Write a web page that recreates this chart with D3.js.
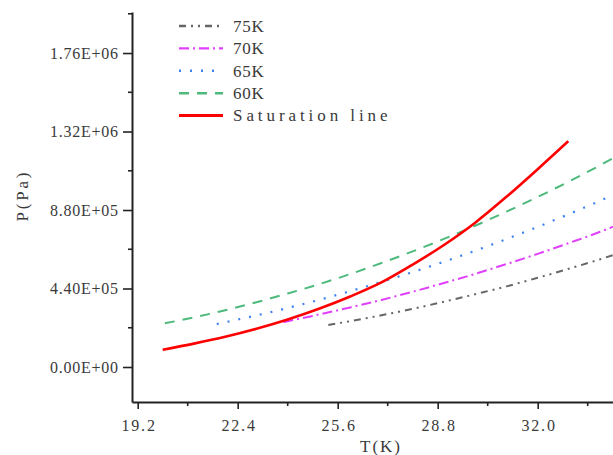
<!DOCTYPE html>
<html>
<head>
<meta charset="utf-8">
<script src="https://cdn.jsdelivr.net/npm/d3@7"></script>
<style>
  body { margin: 0; background: #fff; }
  svg text { font-family: "Liberation Serif", "DejaVu Serif", serif; fill: #3a3a3a; }
</style>
</head>
<body>
<svg id="chart" width="613" height="455"></svg>
<script>
// temperature (K) and pressure (kPa)
const satT = [20.0, 21, 22, 23, 24, 25, 26, 27, 28, 29, 30, 31, 32, 32.98];
const satP = [97, 131, 169, 214, 266, 326, 395, 474, 574, 684, 809, 954, 1109, 1266];

const k60T = [20.07, 21, 22, 23, 24, 25, 26, 27, 28, 29, 30, 31, 32, 33, 34, 34.41];
const k60P = [245, 278, 318, 363, 412, 464, 521, 583, 648, 718, 792, 871, 953, 1040, 1131, 1170];

const k65T = [21.73, 22, 23, 24, 25, 26, 27, 28, 29, 30, 31, 32, 33, 34, 34.41];
const k65P = [241, 251, 289, 331, 376, 425, 477, 532, 590, 652, 717, 785, 857, 932, 964];

const k70T = [23.86, 24, 25, 26, 27, 28, 29, 30, 31, 32, 33, 34, 34.41];
const k70P = [252, 257, 294, 334, 376, 422, 471, 522, 577, 634, 695, 758, 786];

const k75T = [25.3, 26, 27, 28, 29, 30, 31, 32, 33, 34, 34.41];
const k75P = [235, 257, 290, 326, 366, 408, 452, 500, 551, 604, 627];

const xMajor = [19.2, 22.4, 25.6, 28.8, 32.0];
const xMinor = [20.8, 24.0, 27.2, 30.4, 33.6];
const yMajor = [0, 4.4e5, 8.8e5, 1.32e6, 1.76e6];
const yMinor = [2.2e5, 6.6e5, 1.1e6, 1.54e6, 1.98e6];

const seriesNames = ['75K', '70K', '65K', '60K', 'Saturation line'];
const seriesColors = ['#666666', '#e040fb', '#3d82ee', '#4dba7c', '#ff0000'];
const seriesDash = ['7,5,2,5,2,5', '10,4,2,4', '2,9', '10,8', null];
const seriesWidth = [2, 2, 2.2, 2, 2.6];
const seriesT = [k75T, k70T, k65T, k60T, satT];
const seriesP = [k75P, k70P, k65P, k60P, satP];

const svg = d3.select('#chart');
const plot = {left: 132, top: 12, bottom: 402, right: 628};

const x = d3.scaleLinear().domain([19.018, 34.89]).range([plot.left, plot.right]);
const y = d3.scaleLinear().domain([-1.962e5, 1.990e6]).range([plot.bottom, plot.top]);

// imitate the monospaced CJK-font text of the original
const mono = (sel, w) => sel
    .attr('textLength', function() { return this.textContent.length * w; })
    .attr('lengthAdjust', 'spacing');

const sci = v => {
  const [m, e] = v.toExponential(2).split('e');
  const sign = e[0] === '-' ? '-' : '+';
  return m + 'E' + sign + e.replace(/[+-]/, '').padStart(2, '0');
};

svg.append('clipPath').attr('id', 'plotclip')
  .append('rect')
    .attr('x', plot.left).attr('y', plot.top)
    .attr('width', plot.right - plot.left).attr('height', plot.bottom - plot.top);

const line = d3.line()
    .x(d => x(d[0]))
    .y(d => y(d[1] * 1000))
    .curve(d3.curveMonotoneX);

const order = [3, 2, 1, 0, 4];
svg.append('g').attr('clip-path', 'url(#plotclip)')
  .selectAll('path')
  .data(order)
  .enter().append('path')
    .attr('d', i => line(seriesT[i].map((t, j) => [t, seriesP[i][j]])))
    .attr('fill', 'none')
    .attr('stroke', i => seriesColors[i])
    .attr('stroke-width', i => seriesWidth[i])
    .attr('stroke-dasharray', i => seriesDash[i]);

// axes
const xAxis = svg.append('g')
    .attr('transform', `translate(0,${plot.bottom})`)
    .call(d3.axisBottom(x).tickValues(xMajor).tickFormat(d3.format('.1f'))
      .tickSize(7).tickSizeOuter(0).tickPadding(11));
xAxis.append('g')
  .selectAll('line')
  .data(xMinor)
  .enter().append('line')
    .attr('x1', d => x(d)).attr('x2', d => x(d))
    .attr('y1', 0).attr('y2', 4);

const yAxis = svg.append('g')
    .attr('transform', `translate(${plot.left},0)`)
    .call(d3.axisLeft(y).tickValues(yMajor).tickFormat(sci)
      .tickSize(9).tickSizeOuter(0).tickPadding(5));
yAxis.append('g')
  .selectAll('line')
  .data(yMinor)
  .enter().append('line')
    .attr('y1', d => y(d)).attr('y2', d => y(d))
    .attr('x1', 0).attr('x2', -4);

svg.selectAll('.domain').attr('stroke', '#222').attr('stroke-width', 2);
xAxis.selectAll('line').attr('stroke', '#222').attr('stroke-width', 1.6);
yAxis.selectAll('line').attr('stroke', '#222').attr('stroke-width', 1.6);
svg.selectAll('.tick text')
    .style('font-family', '"Liberation Serif", serif')
    .style('font-size', '16px')
    .attr('fill', '#3a3a3a');
xAxis.selectAll('.tick text').call(mono, 8.4);
yAxis.selectAll('.tick text').call(mono, 8.5);

svg.append('text')
    .text('T(K)')
    .attr('x', 380).attr('y', 452)
    .attr('text-anchor', 'middle')
    .style('font-size', '17px')
    .call(mono, 10);

svg.append('text')
    .text('P(Pa)')
    .attr('transform', 'translate(28,197) rotate(-90)')
    .attr('text-anchor', 'middle')
    .style('font-size', '17px')
    .call(mono, 9.8);

// legend
const legend = svg.append('g').attr('transform', 'translate(179,26)');
const rows = legend.selectAll('g')
  .data(d3.range(seriesNames.length))
  .enter().append('g')
    .attr('transform', i => `translate(0, ${i * 22.4})`);

rows.append('line')
    .attr('x1', 0).attr('x2', 44)
    .attr('stroke', i => seriesColors[i])
    .attr('stroke-width', i => seriesWidth[i] + 0.4)
    .attr('stroke-dasharray', i => seriesDash[i]);

rows.append('text')
    .text(i => seriesNames[i])
    .attr('x', 54)
    .attr('dy', '0.34em')
    .style('font-size', '17px')
    .call(mono, 10.3);
</script>
</body>
</html>
